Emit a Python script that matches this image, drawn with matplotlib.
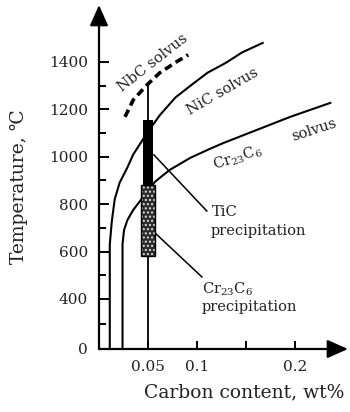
import matplotlib
matplotlib.use("Agg")
import matplotlib.pyplot as plt
import numpy as np

plt.rcParams['font.family'] = ['DejaVu Serif', 'DejaVu Sans']
plt.rcParams['mathtext.fontset'] = 'dejavuserif'

# solvus curves (carbon wt%, temperature C)
nic_x = [0.011, 0.011, 0.013, 0.016, 0.021, 0.029, 0.035, 0.049, 0.062, 0.078, 0.095, 0.111, 0.129, 0.146, 0.167]
nic_t = [0, 630, 725, 820, 890, 955, 1010, 1100, 1175, 1250, 1305, 1355, 1395, 1440, 1480]

cr_x = [0.024, 0.024, 0.0255, 0.029, 0.035, 0.045, 0.057, 0.072, 0.093, 0.113, 0.127, 0.161, 0.195, 0.236]
cr_t = [0, 630, 690, 733, 776, 830, 894, 944, 995, 1033, 1058, 1113, 1168, 1227]

nbc_x = [0.0265, 0.035, 0.049, 0.062, 0.079, 0.091]
nbc_t = [1168, 1240, 1303, 1354, 1400, 1430]

# the 0.05 wt% alloy and its precipitation ranges
alloy_c = 0.05
alloy_top = 1310
tic_range = [880, 1155]
cr_range = [580, 880]

yticks = [0, 400, 600, 800, 1000, 1200, 1400]
yminor = [200, 500, 700, 900, 1100, 1300]
xticks = [0.05, 0.1, 0.15, 0.2]
xticklabels = ['0.05', '0.1', '', '0.2']

# temperature axis is squeezed below 400 C
def fwd(t):
    return np.interp(t, [-1000, 0, 400, 5000], [-125, 0, 50, 50 + 4600 * 0.237])

def inv(v):
    return np.interp(v, [-125, 0, 50, 50 + 4600 * 0.237], [-1000, 0, 400, 5000])

fig = plt.figure(figsize=(3.5, 4.12), dpi=100)
ax = fig.add_axes([99 / 350, 1 - 349 / 412, 236 / 350, 344 / 412])
ax.set_yscale('function', functions=(fwd, inv))
ax.set_xlim(0, 236 / 980)
ax.set_ylim(0, 1640)
for s in ax.spines.values():
    s.set_visible(False)

# axes with arrow heads
arrow = dict(arrowstyle='-|>,head_length=0.9,head_width=0.4', mutation_scale=14, lw=1.6, color='k',
             shrinkA=0, shrinkB=0)
ax.annotate('', xy=(0, 1.0), xytext=(0, 0), xycoords='axes fraction', arrowprops=arrow, annotation_clip=False)
ax.annotate('', xy=(249 / 236, 0), xytext=(0, 0), xycoords='axes fraction', arrowprops=arrow, annotation_clip=False)

ax.plot(nic_x, nic_t, color='k', lw=1.5, clip_on=False)
ax.plot(cr_x, cr_t, color='k', lw=1.5, clip_on=False)
ax.plot(nbc_x, nbc_t, color='k', lw=2.6, dashes=(2.2, 1.3))

ax.plot([alloy_c, alloy_c], [0, alloy_top], color='k', lw=1.3)
ax.bar(alloy_c, tic_range[1] - tic_range[0], bottom=tic_range[0], width=0.0092, color='k', zorder=3)
ax.bar(alloy_c, cr_range[1] - cr_range[0], bottom=cr_range[0], width=0.0133, facecolor='#2b2b2b',
       edgecolor='#dddddd', hatch='....', lw=0, zorder=3)
ax.bar(alloy_c, cr_range[1] - cr_range[0], bottom=cr_range[0], width=0.0133, fill=False,
       edgecolor='k', lw=1, zorder=3)

# leader lines
ax.plot([0.056, 0.110], [1008, 771], color='k', lw=1.1)
ax.plot([0.056, 0.105], [683, 493], color='k', lw=1.1)

tc = '#222222'
ax.text(0.0551, 1396, 'NbC solvus', rotation=38, ha='center', va='center', fontsize=10.5, color=tc)
ax.text(0.1265, 1273, 'NiC solvus', rotation=30, ha='center', va='center', fontsize=10.5, color=tc)
ax.text(0.219, 1113, 'solvus', rotation=18, ha='center', va='center', fontsize=10.5, color=tc)
ax.text(0.1418, 995, r'Cr$_{23}$C$_6$', rotation=18, ha='center', va='center', fontsize=10.5, color=tc)
ax.text(0.1153, 767, 'TiC', ha='left', va='center', fontsize=10.5, color=tc)
ax.text(0.114, 687, 'precipitation', ha='left', va='center', fontsize=10.5, color=tc)
ax.text(0.105, 442, r'Cr$_{23}$C$_6$', ha='left', va='center', fontsize=10.5, color=tc)
ax.text(0.105, 336, 'precipitation', ha='left', va='center', fontsize=10.5, color=tc)

ax.set_yticks(yticks)
ax.set_yticklabels([str(t) for t in yticks])
ax.set_yticks(yminor, minor=True)
ax.set_xticks(xticks)
ax.set_xticklabels(xticklabels)
ax.tick_params(axis='y', which='major', direction='in', length=7, width=1.4, pad=8, labelsize=11, labelcolor=tc)
ax.tick_params(axis='y', which='minor', direction='in', length=5, width=1.4)
ax.tick_params(axis='x', which='major', direction='in', length=6, width=1.4, pad=8, labelsize=11, labelcolor=tc)
ax.tick_params(axis='x', which='minor', bottom=False)

ax.set_ylabel('Temperature, ℃', fontsize=13.5, color=tc)
ax.yaxis.label.set_va('center')
ax.yaxis.set_label_coords((19 - 99) / 236, (349 - 187) / 344)
ax.set_xlabel('Carbon content, wt%', fontsize=13.5, color=tc)
ax.xaxis.label.set_va('center')
ax.xaxis.set_label_coords((244 - 99) / 236, (349 - 392) / 344)

fig.savefig('out.png', dpi=100)
